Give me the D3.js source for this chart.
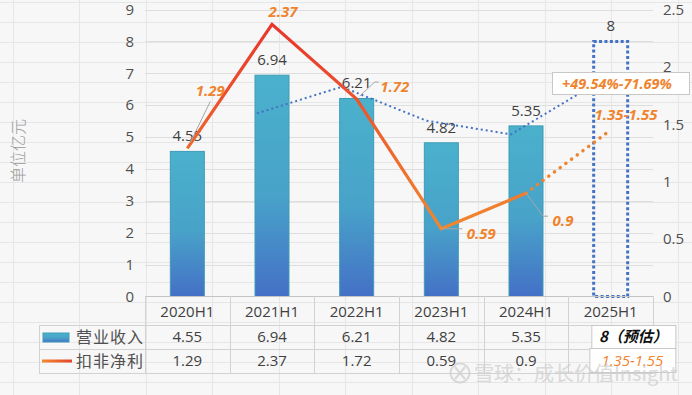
<!DOCTYPE html>
<html>
<head>
<meta charset="utf-8">
<title>营业收入与扣非净利</title>
<script src="https://cdn.jsdelivr.net/npm/d3@7"></script>
<style>
    body{ margin:0; background:#f7f7f7; }
    svg{ display:block; font-family:"Open Sans","Noto Sans","Noto Sans CJK SC",sans-serif; }
    .cjk{ font-family:"Noto Sans CJK SC",sans-serif; }
</style>
</head>
<body>
<svg id="chart"></svg>
<script>
// data
var categories = ["2020H1","2021H1","2022H1","2023H1","2024H1","2025H1"];
var revenue = [4.55, 6.94, 6.21, 4.82, 5.35, 8];          // 营业收入, 2025H1 is estimate
var profit = [1.29, 2.37, 1.72, 0.59, 0.9];               // 扣非净利
var profitForecast = 1.45;                                // middle of 1.35-1.55
var revenueTrend = [null, 5.745, 6.575, 5.515, 5.085, 6.675]; // 2-period moving average
var leftTicks = [0,1,2,3,4,5,6,7,8,9];
var rightTicks = [0,0.5,1,1.5,2,2.5];
var revenueRow = ["4.55","6.94","6.21","4.82","5.35"];
var profitRow = ["1.29","2.37","1.72","0.59","0.9"];
var growthText = "+49.54%-71.69%";
var profitRangeText = "1.35-1.55";

var W = 692, H = 395;
var svg = d3.select("#chart").attr("width", W).attr("height", H);

// spreadsheet background
svg.append("rect").attr("width", W).attr("height", H).attr("fill", "#f7f7f7");
var sheet = svg.append("g").attr("stroke", "#e6e6e6").attr("stroke-width", 1);
for (var cx = 12.5; cx < W; cx += 66.5) {
    sheet.append("line").attr("x1", Math.round(cx)+0.5).attr("x2", Math.round(cx)+0.5).attr("y1", 0).attr("y2", H);
}
for (var ry = 2.5; ry < H; ry += 20) {
    sheet.append("line").attr("x1", 0).attr("x2", W).attr("y1", ry).attr("y2", ry);
}

// scales
var plotL = 145, plotR = 653, plotT = 9.5, plotB = 296.5;
var x = d3.scaleBand().domain(categories).range([plotL, plotR]).padding(0);
var yL = d3.scaleLinear().domain([0, 9]).range([plotB, plotT]);
var yR = d3.scaleLinear().domain([0, 2.5]).range([plotB, plotT]);
var cxOf = function(c){ return x(c) + x.bandwidth()/2; };
var barW = 34;

// gradients
var defs = svg.append("defs");
var bg = defs.append("linearGradient").attr("id", "barGrad").attr("x1", 0).attr("y1", 0).attr("x2", 0).attr("y2", 1);
bg.append("stop").attr("offset", "0%").attr("stop-color", "#4ab1cc");
bg.append("stop").attr("offset", "55%").attr("stop-color", "#48a2c9");
bg.append("stop").attr("offset", "100%").attr("stop-color", "#4470c6");
var lg = defs.append("linearGradient").attr("id", "lineGrad").attr("gradientUnits", "userSpaceOnUse")
    .attr("x1", 0).attr("y1", 20).attr("x2", 0).attr("y2", 235);
lg.append("stop").attr("offset", "0%").attr("stop-color", "#e8332c");
lg.append("stop").attr("offset", "100%").attr("stop-color", "#f28a2e");
var kg = defs.append("linearGradient").attr("id", "keyGrad").attr("gradientUnits", "userSpaceOnUse")
    .attr("x1", 42).attr("y1", 0).attr("x2", 72).attr("y2", 0);
kg.append("stop").attr("offset", "0%").attr("stop-color", "#f28a2e");
kg.append("stop").attr("offset", "100%").attr("stop-color", "#e8432c");

// chart gridlines
svg.append("g").selectAll("line").data(leftTicks.slice(1)).join("line")
    .attr("x1", plotL).attr("x2", plotR)
    .attr("y1", function(d){ return Math.round(yL(d))+0.5; })
    .attr("y2", function(d){ return Math.round(yL(d))+0.5; })
    .attr("stroke", "#dedede");

// axes labels
var axisL = d3.axisLeft(yL).tickValues(leftTicks).tickSize(0).tickPadding(0);
svg.append("g").attr("transform", "translate(134,0)").call(axisL)
    .call(function(g){ g.select(".domain").remove(); })
    .selectAll("text").attr("font-size", 15).attr("fill", "#505050").attr("font-family", "Open Sans");
var axisR = d3.axisRight(yR).tickValues(rightTicks).tickFormat(d3.format("")).tickSize(0).tickPadding(0);
svg.append("g").attr("transform", "translate(663,0)").call(axisR)
    .call(function(g){ g.select(".domain").remove(); })
    .selectAll("text").attr("font-size", 15).attr("fill", "#505050").attr("font-family", "Open Sans");

svg.append("text").attr("class", "cjk")
    .attr("transform", "translate(24,151) rotate(-90)")
    .attr("text-anchor", "middle").attr("font-size", 16).attr("font-weight", 300).attr("fill", "#9a9a9a")
    .text("单位亿元");

// bars (actual)
var actual = categories.slice(0, 5);
svg.append("g").selectAll("rect").data(actual).join("rect")
    .attr("x", function(c){ return cxOf(c) - barW/2; })
    .attr("y", function(c, i){ return yL(revenue[i]); })
    .attr("width", barW)
    .attr("height", function(c, i){ return plotB - yL(revenue[i]); })
    .attr("fill", "url(#barGrad)")
    .attr("stroke", "#3f9bb8").attr("stroke-width", 1);

// forecast bar as dotted box
svg.append("rect")
    .attr("x", cxOf(categories[5]) - 17).attr("y", yL(revenue[5]))
    .attr("width", barW).attr("height", plotB - yL(revenue[5]))
    .attr("fill", "none").attr("stroke", "#4472c4").attr("stroke-width", 3)
    .attr("stroke-dasharray", "3 2.4");

// bar value labels
svg.append("g").selectAll("text").data(categories).join("text")
    .attr("x", function(c){ return cxOf(c); })
    .attr("y", function(c, i){ return yL(revenue[i]) - 10; })
    .attr("text-anchor", "middle").attr("font-size", 15).attr("fill", "#404040")
    .text(function(c, i){ return revenue[i]; });

// moving-average trend of revenue
var trendPts = categories.map(function(c, i){ return [cxOf(c) - 15, revenueTrend[i]]; }).filter(function(p){ return p[1] != null; });
svg.append("path").datum(trendPts)
    .attr("d", d3.line().x(function(p){ return p[0]; }).y(function(p){ return yL(p[1]); }))
    .attr("fill", "none").attr("stroke", "#4472c4").attr("stroke-width", 2)
    .attr("stroke-dasharray", "2 3");

// profit line
var line = d3.line().x(function(d){ return cxOf(d.c); }).y(function(d){ return yR(d.v); });
var profitPts = profit.map(function(v, i){ return {c: categories[i], v: v}; });
svg.append("path").datum(profitPts).attr("d", line)
    .attr("fill", "none").attr("stroke", "url(#lineGrad)").attr("stroke-width", 3.2)
    .attr("stroke-linejoin", "miter");
svg.append("path").datum([profitPts[4], {c: categories[5], v: profitForecast}]).attr("d", line)
    .attr("fill", "none").attr("stroke", "#f0842e").attr("stroke-width", 3.5)
    .attr("stroke-linecap", "round").attr("stroke-dasharray", "0.1 7");

// profit labels with leaders (offsets from the point)
var labelPlace = [
    {dx: 23, dy: -57, leader: [[3,-6],[23,-47]]},
    {dx: 11, dy: -12, leader: null},
    {dx: 38, dy: -12, leader: [[3,-3],[18,-17],[22,-17]]},
    {dx: 40, dy: 5, leader: [[0,0],[21,0]]},
    {dx: 37, dy: 28, leader: [[0,0],[17,23],[22,23]]}
];
var lab = svg.append("g");
profitPts.forEach(function(d, i){
    var px = cxOf(d.c), py = yR(d.v), p = labelPlace[i];
    if (p.leader) {
        lab.append("path")
            .attr("d", d3.line()(p.leader.map(function(q){ return [px + q[0], py + q[1]]; })))
            .attr("fill", "none").attr("stroke", "#a6a6a6").attr("stroke-width", 1);
    }
    lab.append("text").attr("x", px + p.dx).attr("y", py + p.dy + 5)
        .attr("text-anchor", "middle").attr("font-size", 15).attr("font-weight", "bold")
        .attr("font-style", "italic").attr("fill", "#f0842e")
        .text(profitRow[i]);
});

// growth callout box
svg.append("rect").attr("x", 552.5).attr("y", 72.5).attr("width", 137).attr("height", 22)
    .attr("fill", "#ffffff").attr("stroke", "#c8c8c8");
svg.append("text").attr("x", 617).attr("y", 89).attr("text-anchor", "middle")
    .attr("font-size", 14.5).attr("font-weight", "bold").attr("font-style", "italic").attr("fill", "#f0842e")
    .text(growthText);
svg.append("text").attr("x", 626).attr("y", 120).attr("text-anchor", "middle")
    .attr("font-size", 15).attr("font-weight", "bold").attr("font-style", "italic").attr("fill", "#f0842e")
    .text(profitRangeText);

// data table
var tbl = svg.append("g").attr("stroke", "#d2d2d2").attr("stroke-width", 1);
tbl.append("line").attr("x1", plotL).attr("x2", plotR).attr("y1", 296.5).attr("y2", 296.5).attr("stroke", "#c4c4c4");
[325.5, 349.5, 373.5].forEach(function(yy){
    tbl.append("line").attr("x1", 39).attr("x2", plotR).attr("y1", yy).attr("y2", yy);
});
tbl.append("line").attr("x1", 39.5).attr("x2", 39.5).attr("y1", 325).attr("y2", 374);
categories.forEach(function(c){
    tbl.append("line").attr("x1", Math.round(x(c))+0.5).attr("x2", Math.round(x(c))+0.5).attr("y1", 296).attr("y2", 374);
});
tbl.append("line").attr("x1", plotR+0.5).attr("x2", plotR+0.5).attr("y1", 296).attr("y2", 374);

var cellTxt = svg.append("g").attr("font-size", 15).attr("fill", "#404040").attr("text-anchor", "middle");
categories.forEach(function(c){
    cellTxt.append("text").attr("x", cxOf(c)).attr("y", 317).text(c);
});
revenueRow.forEach(function(v, i){
    cellTxt.append("text").attr("x", cxOf(categories[i])).attr("y", 342).text(v);
});
profitRow.forEach(function(v, i){
    cellTxt.append("text").attr("x", cxOf(categories[i])).attr("y", 366).text(v);
});

// forecast cells
var fx = x(categories[5]);
svg.append("rect").attr("x", fx + 23.5).attr("y", 325.5).attr("width", 84).attr("height", 23)
    .attr("fill", "#ffffff").attr("stroke", "#c8c8c8");
svg.append("rect").attr("x", fx + 21.5).attr("y", 348.5).attr("width", 86).attr("height", 24)
    .attr("fill", "#ffffff").attr("stroke", "#c8c8c8");
svg.append("text").attr("class", "cjk").attr("x", fx + 65).attr("y", 342).attr("text-anchor", "middle")
    .attr("font-size", 15).attr("font-weight", "bold").attr("font-style", "italic").attr("fill", "#111")
    .text("8（预估）");
svg.append("text").attr("x", fx + 64).attr("y", 366).attr("text-anchor", "middle")
    .attr("font-size", 15).attr("font-style", "italic").attr("fill", "#f0842e")
    .text(profitRangeText);

// legend
svg.append("rect").attr("x", 43).attr("y", 333).attr("width", 26).attr("height", 9)
    .attr("fill", "url(#barGrad)").attr("stroke", "#3f9bb8");
svg.append("line").attr("x1", 42).attr("x2", 72).attr("y1", 361).attr("y2", 361)
    .attr("stroke", "url(#keyGrad)").attr("stroke-width", 3);
svg.append("text").attr("class", "cjk").attr("x", 76).attr("y", 343).attr("font-size", 16)
    .attr("fill", "#505050").attr("letter-spacing", 1).text("营业收入");
svg.append("text").attr("class", "cjk").attr("x", 76).attr("y", 367).attr("font-size", 16)
    .attr("fill", "#505050").attr("letter-spacing", 1).text("扣非净利");

// watermark
var wm = svg.append("g").attr("opacity", 0.75);
wm.append("circle").attr("cx", 460).attr("cy", 373).attr("r", 9.5)
    .attr("fill", "none").attr("stroke", "#cfcfcf").attr("stroke-width", 2);
wm.append("path").attr("d", "M455,367 L465,379 M465,367 L455,379")
    .attr("stroke", "#cfcfcf").attr("stroke-width", 2);
wm.append("text").attr("class", "cjk").attr("x", 474).attr("y", 381).attr("font-size", 20)
    .attr("fill", "#cfcfcf").text("雪球：成长价值Insight");
</script>
</body>
</html>
